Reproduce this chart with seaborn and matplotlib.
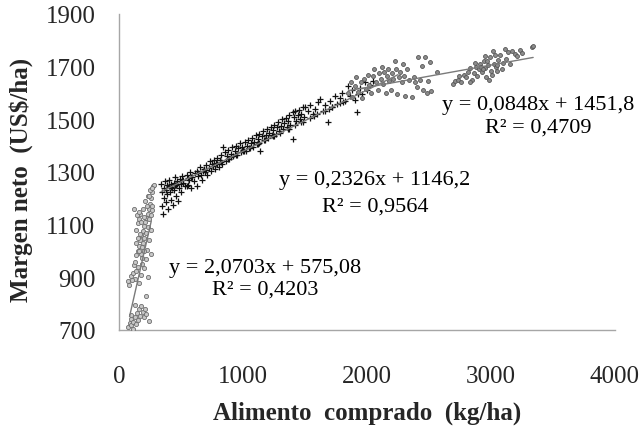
import numpy as np
import pandas as pd
import matplotlib
matplotlib.use("Agg")
import matplotlib.pyplot as plt
import seaborn as sns
from matplotlib.ticker import MultipleLocator

# ---------------- data ----------------
# cluster 1 (grey circles)
c1_x = [75, 85, 95, 100, 110, 115, 125, 135, 145, 150, 160, 170, 180, 190, 200, 210, 220, 95, 130, 240,
        70, 80, 95, 110, 125, 140, 150, 160, 175, 185, 200, 215, 230, 120, 105,
        130, 140, 150, 160, 170, 175, 180, 185, 190, 195, 200, 205, 210, 215, 220, 225, 230, 235, 240, 245,
        250, 255, 260, 265, 270, 275, 250, 230, 210, 190, 170, 160, 150, 140, 155, 165, 185, 200, 215, 240,
        255, 260, 270, 280, 180, 200, 225, 245, 265, 135, 145, 160, 120, 170]
c1_y = [712, 725, 718, 740, 705, 730, 750, 722, 765, 738, 780, 755, 790, 770, 748, 778, 760, 758, 795, 735,
        885, 870, 905, 915, 895, 925, 940, 880, 910, 950, 935, 830, 900, 945, 890,
        960, 985, 1000, 1020, 1040, 990, 1060, 1015, 1075, 1030, 1095, 1050, 1110, 1070, 1125, 1005, 1140, 1090, 1160, 1120,
        1180, 1135, 1200, 1155, 1225, 1245, 1230, 1210, 1190, 1160, 1140, 1120, 1105, 1080, 1050, 1000, 975, 1000, 970, 1040,
        990, 1080, 1170, 1250, 1110, 1130, 1170, 1210, 1240, 1030, 1135, 1150, 1160, 1065]

# cluster 2 (black plus)
c2_x = [340, 345, 350, 355, 360, 365, 372, 376, 381, 386, 391, 397, 402, 406, 411, 417, 421, 426, 432, 441,
        446, 452, 457, 462, 469, 476, 483, 491, 496, 503, 512, 519, 531, 546, 548, 553, 561, 572, 583, 591,
        602, 613, 626, 632, 641, 652, 663, 671, 683, 692, 703, 712, 722, 733, 741, 752, 763, 771, 783, 792,
        803, 812, 823, 831, 839, 852, 863, 872, 883, 891, 902, 913, 921, 933, 942, 951, 962, 973, 981, 993,
        1002, 1013, 1021, 1032, 1043, 1052, 1061, 1073, 1082, 1091, 1103, 1112, 1123, 1131, 1137, 1152, 1163, 1171, 1183, 1192,
        1203, 1212, 1223, 1231, 1243, 1252, 1263, 1271, 1283, 1292, 1303, 1312, 1323, 1331, 1343, 1352, 1363, 1371, 1383, 1403,
        1403, 1412, 1423, 1431, 1443, 1452, 1463, 1471, 1483, 1492, 1500, 1522, 1543, 1561, 1582, 1603, 1621, 1643, 1662, 1686,
        1702, 1721, 1743, 1762, 1781, 1802, 1822, 1847, 1862, 1883, 1902, 1917, 1943, 1962, 1983, 2002, 2023, 2052,
        420, 470, 520, 580, 640, 700, 760, 820, 880, 940, 1000, 1060, 1120, 1180, 1240, 1300, 1360, 1420, 1480, 1540,
        1600, 1660, 1720, 1780, 450, 560, 680, 790, 900, 1010, 1130, 1250, 1370, 1470, 1570, 1690, 1810, 1930]
c2_y = [1255, 1225, 1170, 1140, 1240, 1200, 1265, 1230, 1185, 1250, 1215, 1160, 1245, 1270, 1225, 1195, 1255, 1240, 1175, 1260,
        1230, 1280, 1210, 1250, 1265, 1190, 1240, 1275, 1255, 1225, 1285, 1260, 1245, 1248, 1290, 1250, 1270, 1300, 1240, 1280,
        1265, 1295, 1248, 1305, 1285, 1320, 1290, 1270, 1310, 1300, 1325, 1290, 1315, 1340, 1305, 1330, 1345, 1310, 1335, 1355,
        1320, 1345, 1365, 1330, 1395, 1375, 1340, 1360, 1385, 1350, 1370, 1395, 1360, 1380, 1400, 1365, 1390, 1410, 1375, 1395,
        1385, 1415, 1380, 1400, 1420, 1390, 1410, 1430, 1395, 1415, 1440, 1405, 1425, 1445, 1381, 1435, 1455, 1420, 1440, 1465,
        1430, 1450, 1470, 1440, 1460, 1480, 1445, 1470, 1490, 1455, 1475, 1500, 1465, 1485, 1505, 1470, 1495, 1515, 1480, 1528,
        1425, 1510, 1530, 1495, 1515, 1535, 1500, 1520, 1545, 1510, 1547, 1530, 1555, 1520, 1540, 1565, 1577, 1530, 1555, 1490,
        1570, 1545, 1590, 1560, 1580, 1600, 1570, 1628, 1590, 1610, 1575, 1527, 1620, 1595, 1640, 1610, 1630, 1645,
        1243, 1255, 1268, 1281, 1295, 1309, 1323, 1337, 1351, 1365, 1379, 1393, 1407, 1421, 1435, 1449, 1463, 1477, 1491, 1505,
        1519, 1533, 1547, 1561, 1250, 1277, 1305, 1330, 1356, 1381, 1409, 1437, 1465, 1488, 1511, 1539, 1567, 1595]

# cluster 3 (grey circles)
c3_x = [1850, 1870, 1880, 1900, 1915, 1930, 1950, 1960, 1975, 1990, 2005, 2020, 2035, 2050, 2060, 2075, 2085, 2095, 2110, 2120,
        2130, 2140, 2150, 2160, 2170, 2180, 2190, 2200, 2210, 2226, 2235, 2245, 2255, 2265, 2280, 2290, 2300, 2306, 2320, 2340,
        2360, 2375, 2390, 2401, 2411, 2425, 2441, 2450, 2468, 2480, 2492, 2508, 2520, 2562,
        2694, 2710, 2730, 2745, 2760, 2780, 2800, 2815, 2830, 2845, 2860, 2875, 2890, 2900, 2911, 2925, 2940, 2950, 2960, 2975,
        2990, 3000, 3016, 3025, 3040, 3048, 3060, 3070, 3085, 3097, 3113, 3120, 3140, 3150, 3170, 3190, 3210, 3230, 3250, 3328,
        3335, 2830, 2870, 2985, 3030, 2955, 3010, 2920, 2935, 2965, 3050]
c3_y = [1600, 1640, 1585, 1625, 1660, 1605, 1640, 1580, 1655, 1615, 1670, 1630, 1600, 1665, 1690, 1640, 1610, 1675, 1655, 1700,
        1634, 1680, 1600, 1665, 1690, 1645, 1610, 1675, 1655, 1723, 1690, 1595, 1660, 1680, 1640, 1710, 1665, 1590, 1690, 1650,
        1585, 1660, 1640, 1622, 1737, 1650, 1704, 1610, 1737, 1600, 1647, 1718, 1609, 1680,
        1634, 1645, 1650, 1665, 1640, 1670, 1660, 1680, 1695, 1650, 1675, 1700, 1665, 1690, 1710, 1680, 1720, 1695, 1660, 1705,
        1735, 1685, 1761, 1710, 1700, 1684, 1725, 1745, 1690, 1715, 1767, 1730, 1755, 1710, 1760, 1750, 1740, 1765, 1752, 1775,
        1778, 1640, 1715, 1650, 1745, 1740, 1670, 1700, 1690, 1720, 1705]

# trend lines
slopes = [2.0703, 0.2326, 0.0848]
intercepts = [575.08, 1146.2, 1451.8]
x_starts = [85, 340, 1850]
x_ends = [260, 2250, 3340]
eq_texts = ["y = 2,0703x + 575,08", "y = 0,2326x + 1146,2", "y = 0,0848x + 1451,8"]
r2_texts = ["R² = 0,4203", "R² = 0,9564", "R² = 0,4709"]

x_ticks = [0, 1000, 2000, 3000, 4000]
y_ticks = [700, 900, 1100, 1300, 1500, 1700, 1900]

# ---------------- plotting ----------------
sns.set_style("white")
plt.rcParams['font.family'] = ['Liberation Serif', 'DejaVu Serif']

fig = plt.figure(figsize=(6.43, 4.27), dpi=100)
ax = fig.add_axes([119/643, 1 - 331/427, (615 - 119)/643, (331 - 15)/427])

df1 = pd.DataFrame({"x": c1_x, "y": c1_y})
df2 = pd.DataFrame({"x": c2_x, "y": c2_y})
df3 = pd.DataFrame({"x": c3_x, "y": c3_y})

sns.scatterplot(data=df1, x="x", y="y", ax=ax, marker="o", s=9,
                facecolor="#c8c8c8", edgecolor="#6e6e6e", linewidth=0.6, zorder=3)
sns.scatterplot(data=df2, x="x", y="y", ax=ax, marker="+", s=14,
                color="#111111", linewidth=0.9, zorder=3)
sns.scatterplot(data=df3, x="x", y="y", ax=ax, marker="o", s=8,
                facecolor="#8c8c8c", edgecolor="#555555", linewidth=0.6, zorder=3)

for m, b, xs, xe in zip(slopes, intercepts, x_starts, x_ends):
    lx = np.array([xs, xe], dtype=float)
    sns.lineplot(x=lx, y=m * lx + b, ax=ax, color="#7a7a7a", linewidth=1.0, zorder=4)

# annotations (centre positions in data units)
eq_pos = [(1177, 939), (2065, 1273), (3379, 1558)]
r2_pos = [(1177, 856), (2065, 1171), (3379, 1471)]
for t, (px, py) in zip(eq_texts, eq_pos):
    ax.text(px, py, t, ha="center", va="center", fontsize=16, color="black")
for t, (px, py) in zip(r2_texts, r2_pos):
    ax.text(px, py, t, ha="center", va="center", fontsize=16, color="black")

ax.set_xlim(0, 4000)
ax.set_ylim(700, 1900)
ax.set_xticks(x_ticks)
ax.set_yticks(y_ticks)
ax.xaxis.set_minor_locator(MultipleLocator(250))

for s in ["top", "right"]:
    ax.spines[s].set_visible(False)
for s in ["left", "bottom"]:
    ax.spines[s].set_color("#a6a6a6")
    ax.spines[s].set_linewidth(1.0)

ax.tick_params(axis="x", which="major", direction="inout", length=12, width=1,
               color="#a6a6a6", labelsize=18, pad=19)
ax.tick_params(axis="x", which="minor", direction="in", length=5, width=1, color="#a6a6a6")
ax.tick_params(axis="y", which="major", direction="out", length=9, width=1,
               color="#a6a6a6", labelsize=18, pad=8)

ax.set_xlabel("Alimento  comprado  (kg/ha)", fontsize=18, fontweight="bold")
ax.set_ylabel("Margen neto  (US$/ha)", fontsize=18, fontweight="bold")
ax.xaxis.set_label_coords(0.5, -0.222)
ax.yaxis.set_label_coords(-0.173, 0.478)

fig.savefig("out.png", dpi=100)
